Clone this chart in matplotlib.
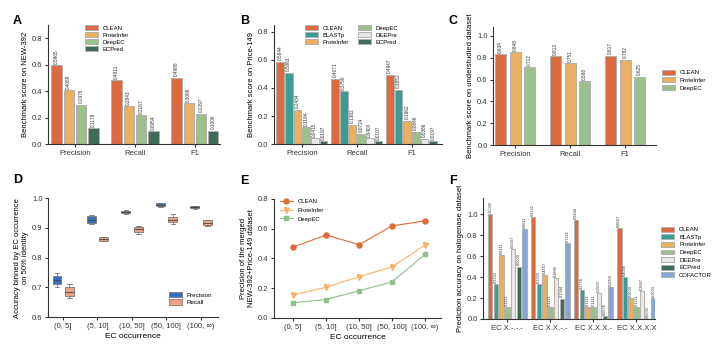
import matplotlib

matplotlib.use("Agg")

import matplotlib.pyplot as plt
import numpy as np
from matplotlib.patches import Patch

plt.rcParams["font.family"] = ["Liberation Sans", "DejaVu Sans"]
plt.rcParams["axes.linewidth"] = 0.8
plt.rcParams["xtick.major.width"] = 0.8
plt.rcParams["ytick.major.width"] = 0.8
plt.rcParams["xtick.major.size"] = 2.5
plt.rcParams["ytick.major.size"] = 2.5
plt.rcParams["xtick.major.pad"] = 2
plt.rcParams["ytick.major.pad"] = 1.5

# ---- data ----
metrics = ["Precision", "Recall", "F1"]

a_methods = ["CLEAN", "ProteInfer", "DeepEC", "ECPred"]
a_values = [
    [0.5965, 0.4811, 0.4988],
    [0.4068, 0.2843, 0.3086],
    [0.2976, 0.2167, 0.2297],
    [0.1178, 0.0954, 0.1009],
]

b_methods = ["CLEAN", "BLASTp", "ProteInfer", "DeepEC", "DEEPre", "ECPred"]
b_values = [
    [0.5844, 0.4671, 0.4947],
    [0.5063, 0.3750, 0.3852],
    [0.2434, 0.1382, 0.1662],
    [0.1184, 0.0724, 0.0846],
    [0.0415, 0.0403, 0.0386],
    [0.0197, 0.0197, 0.0197],
]

c_methods = ["CLEAN", "ProteInfer", "DeepEC"]
c_values = [
    [0.834, 0.813, 0.817],
    [0.848, 0.751, 0.782],
    [0.712, 0.586, 0.625],
]

occ_bins = ["(0, 5]", "(5, 10]", "(10, 50]", "(50, 100]", "(100, \u221e)"]

prec_whislo = [0.700, 0.912, 0.947, 0.970, 0.963]
prec_q1 = [0.712, 0.918, 0.950, 0.973, 0.966]
prec_med = [0.725, 0.928, 0.955, 0.978, 0.970]
prec_q3 = [0.738, 0.940, 0.958, 0.982, 0.973]
prec_whishi = [0.748, 0.942, 0.960, 0.984, 0.975]

rec_whislo = [0.663, 0.855, 0.878, 0.913, 0.905]
rec_q1 = [0.672, 0.857, 0.887, 0.920, 0.910]
rec_med = [0.686, 0.862, 0.895, 0.928, 0.918]
rec_q3 = [0.700, 0.868, 0.904, 0.938, 0.926]
rec_whishi = [0.712, 0.870, 0.906, 0.946, 0.928]

e_clean = [0.475, 0.557, 0.492, 0.618, 0.652]
e_proteinfer = [0.155, 0.205, 0.277, 0.342, 0.490]
e_deepec = [0.102, 0.123, 0.182, 0.242, 0.427]

f_levels = ["EC X.-.-.-", "EC X.X.-.-", "EC X.X.X.-", "EC X.X.X.X"]
f_methods = ["CLEAN", "BLASTp", "ProteInfer", "DeepEC", "DEEPre", "ECPred", "COFACTOR"]
f_values = [
    [1.0000, 0.9722, 0.9444, 0.8667],
    [0.3333, 0.3333, 0.2778, 0.4000],
    [0.6111, 0.4167, 0.1111, 0.2000],
    [0.1111, 0.1111, 0.1111, 0.1111],
    [0.6667, 0.3889, 0.2500, 0.2667],
    [0.5000, 0.1944, 0.0278, 0.0000],
    [0.8611, 0.7222, 0.3056, 0.2000],
]

colors = {
    "CLEAN": "#dc6a3e",
    "BLASTp": "#3b9c94",
    "ProteInfer": "#e9b062",
    "DeepEC": "#9cc08c",
    "DEEPre": "#e8e8e8",
    "ECPred": "#3f6b57",
    "COFACTOR": "#86a7d4",
}
EDGE = "#b0b0b0"
FS = 5.5


def style_ax(ax):
    for side in ("top", "right"):
        ax.spines[side].set_visible(False)
    ax.spines["left"].set_color("#333333")
    ax.spines["bottom"].set_color("#333333")
    ax.tick_params(labelsize=FS, colors="#333333")


def grouped_bars(ax, methods, values, groups, width, step, fmt, label_fs=3.4):
    n = len(methods)
    x = np.arange(len(groups))
    for i, (m, vals) in enumerate(zip(methods, values)):
        off = (i - (n - 1) / 2) * step
        bars = ax.bar(x + off, vals, width, color=colors[m], edgecolor=EDGE, linewidth=0.7, label=m)
        for b, v in zip(bars, vals):
            ax.text(b.get_x() + b.get_width() / 2, v + 0.012, fmt.format(v), rotation=90,
                    ha="center", va="bottom", fontsize=label_fs, color="#333333")
    ax.set_xticks(x)
    ax.set_xticklabels(groups, fontsize=FS + 0.5)


fig = plt.figure(figsize=(7.17, 3.47), dpi=100)

# ---- A ----
axA = fig.add_axes([0.067, 0.585, 0.240, 0.343])
grouped_bars(axA, a_methods, a_values, metrics, 0.17, 0.205, "{:.4f}")
axA.set_xlim(-0.45, 2.42)
axA.set_ylim(0, 0.9)
axA.set_yticks([0.0, 0.2, 0.4, 0.6, 0.8])
axA.set_ylabel("Benchmark score on NEW-392", fontsize=FS, labelpad=2)
style_ax(axA)
axA.legend(loc="upper left", bbox_to_anchor=(0.2, 1.02), fontsize=4.3, frameon=False,
           handlelength=2.2, handleheight=0.9, labelspacing=0.25, borderaxespad=0)

# ---- B ----
axB = fig.add_axes([0.382, 0.585, 0.234, 0.343])
grouped_bars(axB, b_methods, b_values, metrics, 0.14, 0.158, "{:.4f}")
axB.set_xlim(-0.51, 2.55)
axB.set_ylim(0, 0.85)
axB.set_yticks([0.0, 0.2, 0.4, 0.6, 0.8])
axB.set_ylabel("Benchmark score on Price-149", fontsize=FS, labelpad=2)
style_ax(axB)
axB.legend(loc="upper left", bbox_to_anchor=(0.17, 1.02), ncol=2, fontsize=4.3, frameon=False,
           handlelength=2.2, handleheight=0.9, labelspacing=0.25, columnspacing=1.5,
           borderaxespad=0)

# ---- C ----
axC = fig.add_axes([0.688, 0.582, 0.227, 0.340])
grouped_bars(axC, c_methods, c_values, metrics, 0.2, 0.265, "{:.3f}")
axC.set_xlim(-0.4, 2.56)
axC.set_ylim(0, 1.08)
axC.set_yticks([0.0, 0.2, 0.4, 0.6, 0.8, 1.0])
axC.set_ylabel("Benchmark score on understudied dataset", fontsize=FS, labelpad=2)
style_ax(axC)
axC.legend(loc="center left", bbox_to_anchor=(1.02, 0.55), fontsize=4.3, frameon=False,
           handlelength=2.2, handleheight=0.9, labelspacing=0.35, borderaxespad=0)

# ---- D ----
axD = fig.add_axes([0.067, 0.086, 0.237, 0.343])
xD = np.arange(len(occ_bins))
prec_stats = [dict(whislo=a, q1=b, med=c, q3=d, whishi=e, fliers=[])
              for a, b, c, d, e in zip(prec_whislo, prec_q1, prec_med, prec_q3, prec_whishi)]
rec_stats = [dict(whislo=a, q1=b, med=c, q3=d, whishi=e, fliers=[])
             for a, b, c, d, e in zip(rec_whislo, rec_q1, rec_med, rec_q3, rec_whishi)]
for stats, pos, col in ((prec_stats, xD - 0.17, "#3b6fb8"), (rec_stats, xD + 0.19, "#eba283")):
    axD.bxp(stats, positions=pos, widths=0.26, patch_artist=True, showfliers=False,
            boxprops=dict(facecolor=col, edgecolor="#777777", linewidth=0.6),
            medianprops=dict(color="#444444", linewidth=0.6),
            whiskerprops=dict(color="#777777", linewidth=0.6),
            capprops=dict(color="#777777", linewidth=0.6), capwidths=0.13)
axD.set_xticks(xD)
axD.set_xticklabels(occ_bins, fontsize=FS)
axD.set_xlim(-0.43, 4.5)
axD.set_ylim(0.6, 1.0)
axD.set_yticks([0.6, 0.7, 0.8, 0.9, 1.0])
axD.set_xlabel("EC occurrence", fontsize=FS + 0.5, labelpad=2)
axD.set_ylabel("Accuracy binned by EC occurrence\non 50% identity", fontsize=FS, labelpad=2)
style_ax(axD)
axD.legend(handles=[Patch(facecolor="#3b6fb8", edgecolor="#777777", linewidth=0.6, label="Precision"),
                    Patch(facecolor="#eba283", edgecolor="#777777", linewidth=0.6, label="Recall")],
           loc="lower right", bbox_to_anchor=(0.98, 0.08), fontsize=4.5, frameon=False,
           handlelength=2.0, handleheight=0.9, labelspacing=0.3, borderaxespad=0)

# ---- E ----
axE = fig.add_axes([0.382, 0.084, 0.233, 0.343])
xE = np.arange(len(occ_bins))
axE.plot(xE, e_clean, color="#e0683a", marker="o", markersize=3.6, linewidth=0.8, label="CLEAN")
axE.plot(xE, e_proteinfer, color="#f4b26b", marker="v", markersize=3.6, linewidth=0.8, label="ProteInfer")
axE.plot(xE, e_deepec, color="#8fbf8a", marker="s", markersize=3.3, linewidth=0.8, label="DeepEC")
axE.set_xticks(xE)
axE.set_xticklabels(occ_bins, fontsize=FS)
axE.set_xlim(-0.58, 4.48)
axE.set_ylim(0, 0.8)
axE.set_yticks([0.0, 0.2, 0.4, 0.6, 0.8])
axE.set_xlabel("EC occurrence", fontsize=FS + 0.5, labelpad=2)
axE.set_ylabel("Precision of the merged\nNEW-392+Price-149 dataset", fontsize=FS, labelpad=2)
style_ax(axE)
axE.legend(loc="upper left", bbox_to_anchor=(0.02, 1.02), fontsize=4.3, frameon=False,
           handlelength=2.2, labelspacing=0.6, borderaxespad=0)

# ---- F ----
axF = fig.add_axes([0.674, 0.081, 0.240, 0.349])
grouped_bars(axF, f_methods, f_values, f_levels, 0.105, 0.133, "{:.4f}", label_fs=2.8)
axF.set_xlim(-0.56, 3.44)
axF.set_ylim(0, 1.16)
axF.set_yticks([0.0, 0.2, 0.4, 0.6, 0.8, 1.0])
axF.set_ylabel("Prediction accuracy on halogenase dataset", fontsize=FS, labelpad=2)
style_ax(axF)
axF.legend(loc="center left", bbox_to_anchor=(1.02, 0.55), fontsize=4.3, frameon=False,
           handlelength=2.2, handleheight=0.9, labelspacing=0.35, borderaxespad=0)

# ---- panel letters ----
for lx, ly, letter in ((0.018, 0.94, "A"), (0.335, 0.94, "B"), (0.626, 0.94, "C"),
                       (0.018, 0.48, "D"), (0.335, 0.478, "E"), (0.626, 0.478, "F")):
    fig.text(lx, ly, letter, fontsize=9, fontweight="bold", va="center", ha="left")

fig.savefig("out.png", dpi=100, facecolor="white")
